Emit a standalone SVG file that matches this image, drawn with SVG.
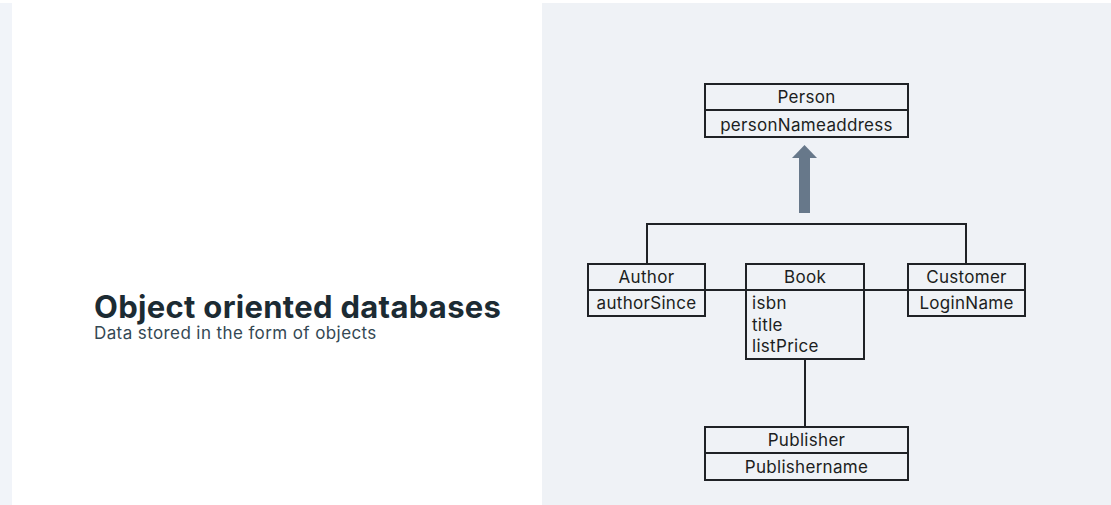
<svg xmlns="http://www.w3.org/2000/svg" width="1111" height="505" viewBox="0 0 1111 505">
<style>
.box{fill:none;stroke:#1f2226;stroke-width:2}
.lbl{font-family:Inter,"Noto Sans","Liberation Sans",sans-serif;font-size:17px;letter-spacing:0.3px;fill:#1c1e21}
.c{text-anchor:middle}
.conn{fill:none;stroke:#1f2226;stroke-width:2}
</style>
<rect x="0" y="0" width="1111" height="505" fill="#ffffff"/>
<rect x="0" y="3" width="12" height="502" fill="#f1f4f9"/>
<rect x="542" y="3" width="569" height="502" fill="#eff2f6"/>
<g id="title">
<text x="94" y="318" font-family="Inter,'Noto Sans','Liberation Sans',sans-serif" font-size="31" font-weight="700" letter-spacing="0.3" fill="#1c2b33">Object oriented databases</text>
<text x="94" y="339" font-family="Inter,'Noto Sans','Liberation Sans',sans-serif" font-size="17" letter-spacing="0.4" fill="#344854">Data stored in the form of objects</text>
</g>
<g id="connectors">
<polyline class="conn" points="647,264 647,224 966,224 966,264"/>
<line class="conn" x1="705" y1="290" x2="746" y2="290"/>
<line class="conn" x1="864" y1="290" x2="908" y2="290"/>
<line class="conn" x1="805" y1="359" x2="805" y2="427"/>
<rect x="799" y="157" width="11" height="56" fill="#67788a"/>
<polygon points="792,158 804.5,145 817,158" fill="#67788a"/>
</g>
<g id="person">
<rect class="box" x="705" y="84" width="203" height="53"/>
<line class="box" x1="705" y1="110" x2="908" y2="110"/>
<text class="lbl c" x="806.5" y="103">Person</text>
<text class="lbl c" x="806.5" y="131">personNameaddress</text>
</g>
<g id="author">
<rect class="box" x="588" y="264" width="117" height="52"/>
<line class="box" x1="588" y1="290" x2="705" y2="290"/>
<text class="lbl c" x="646.5" y="283">Author</text>
<text class="lbl c" x="646.5" y="309">authorSince</text>
</g>
<g id="book">
<rect class="box" x="746" y="264" width="118" height="95"/>
<line class="box" x1="746" y1="290" x2="864" y2="290"/>
<text class="lbl c" x="805" y="283">Book</text>
<text class="lbl" x="752" y="309">isbn</text>
<text class="lbl" x="752" y="331">title</text>
<text class="lbl" x="752" y="352">listPrice</text>
</g>
<g id="customer">
<rect class="box" x="908" y="264" width="117" height="52"/>
<line class="box" x1="908" y1="290" x2="1025" y2="290"/>
<text class="lbl c" x="966.5" y="283">Customer</text>
<text class="lbl c" x="966.5" y="309">LoginName</text>
</g>
<g id="publisher">
<rect class="box" x="705" y="427" width="203" height="53"/>
<line class="box" x1="705" y1="453" x2="908" y2="453"/>
<text class="lbl c" x="806.5" y="446">Publisher</text>
<text class="lbl c" x="806.5" y="473">Publishername</text>
</g>
</svg>
